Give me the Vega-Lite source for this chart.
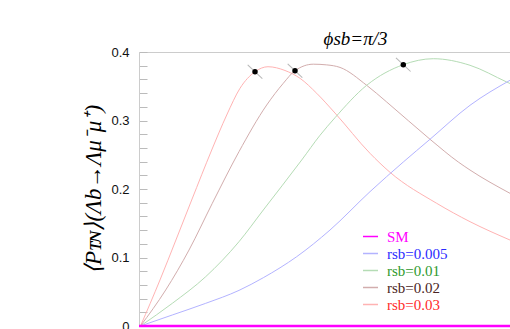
{
  "$schema": "https://vega.github.io/schema/vega-lite/v6.json",
  "width": 371,
  "height": 274,
  "autosize": {"type": "none"},
  "padding": {"left": 139, "top": 52, "right": 0, "bottom": 3},
  "background": "white",
  "config": {"view": {"stroke": null}},
  "title": {"text": "ϕsb=π/3", "font": "Liberation Serif", "fontSize": 19, "fontStyle": "italic", "fontWeight": "normal", "color": "#000", "anchor": "middle", "frame": "group", "dx": 31, "dy": 9, "offset": 6},
  "datasets": {
    "curves": [
      {"series": "rsb=0.03", "q": 0.004, "v": 0.0},
      {"series": "rsb=0.03", "q": 0.0566, "v": 0.0672},
      {"series": "rsb=0.03", "q": 0.0995, "v": 0.1255},
      {"series": "rsb=0.03", "q": 0.142, "v": 0.1839},
      {"series": "rsb=0.03", "q": 0.196, "v": 0.2569},
      {"series": "rsb=0.03", "q": 0.2364, "v": 0.308},
      {"series": "rsb=0.03", "q": 0.2722, "v": 0.347},
      {"series": "rsb=0.03", "q": 0.3127, "v": 0.3712},
      {"series": "rsb=0.03", "q": 0.3477, "v": 0.3785},
      {"series": "rsb=0.03", "q": 0.3935, "v": 0.373},
      {"series": "rsb=0.03", "q": 0.434, "v": 0.3616},
      {"series": "rsb=0.03", "q": 0.479, "v": 0.3397},
      {"series": "rsb=0.03", "q": 0.5283, "v": 0.3109},
      {"series": "rsb=0.03", "q": 0.6226, "v": 0.2521},
      {"series": "rsb=0.03", "q": 0.6765, "v": 0.2244},
      {"series": "rsb=0.03", "q": 0.8024, "v": 0.1791},
      {"series": "rsb=0.03", "q": 0.8922, "v": 0.1523},
      {"series": "rsb=0.03", "q": 1.0, "v": 0.1255},
      {"series": "rsb=0.02", "q": 0.004, "v": 0.0},
      {"series": "rsb=0.02", "q": 0.072, "v": 0.0526},
      {"series": "rsb=0.02", "q": 0.1348, "v": 0.1109},
      {"series": "rsb=0.02", "q": 0.1976, "v": 0.1791},
      {"series": "rsb=0.02", "q": 0.2695, "v": 0.2545},
      {"series": "rsb=0.02", "q": 0.3442, "v": 0.3226},
      {"series": "rsb=0.02", "q": 0.3889, "v": 0.3543},
      {"series": "rsb=0.02", "q": 0.4205, "v": 0.3727},
      {"series": "rsb=0.02", "q": 0.4698, "v": 0.3822},
      {"series": "rsb=0.02", "q": 0.5059, "v": 0.3812},
      {"series": "rsb=0.02", "q": 0.5418, "v": 0.3775},
      {"series": "rsb=0.02", "q": 0.6137, "v": 0.3514},
      {"series": "rsb=0.02", "q": 0.6677, "v": 0.327},
      {"series": "rsb=0.02", "q": 0.7844, "v": 0.2726},
      {"series": "rsb=0.02", "q": 0.8606, "v": 0.2394},
      {"series": "rsb=0.02", "q": 0.8922, "v": 0.2277},
      {"series": "rsb=0.02", "q": 1.0, "v": 0.1937},
      {"series": "rsb=0.01", "q": 0.004, "v": 0.0},
      {"series": "rsb=0.01", "q": 0.0898, "v": 0.0331},
      {"series": "rsb=0.01", "q": 0.1798, "v": 0.072},
      {"series": "rsb=0.01", "q": 0.2695, "v": 0.1231},
      {"series": "rsb=0.01", "q": 0.335, "v": 0.1693},
      {"series": "rsb=0.01", "q": 0.4385, "v": 0.2423},
      {"series": "rsb=0.01", "q": 0.4879, "v": 0.2784},
      {"series": "rsb=0.01", "q": 0.5283, "v": 0.3041},
      {"series": "rsb=0.01", "q": 0.6137, "v": 0.3514},
      {"series": "rsb=0.01", "q": 0.7124, "v": 0.3815},
      {"series": "rsb=0.01", "q": 0.7933, "v": 0.3902},
      {"series": "rsb=0.01", "q": 0.8922, "v": 0.3806},
      {"series": "rsb=0.01", "q": 0.9911, "v": 0.3562},
      {"series": "rsb=0.01", "q": 1.0, "v": 0.354},
      {"series": "rsb=0.005", "q": 0.004, "v": 0.0},
      {"series": "rsb=0.005", "q": 0.0898, "v": 0.0161},
      {"series": "rsb=0.005", "q": 0.1798, "v": 0.0331},
      {"series": "rsb=0.005", "q": 0.2695, "v": 0.052},
      {"series": "rsb=0.005", "q": 0.335, "v": 0.0705},
      {"series": "rsb=0.005", "q": 0.4251, "v": 0.1012},
      {"series": "rsb=0.005", "q": 0.5148, "v": 0.1401},
      {"series": "rsb=0.005", "q": 0.6226, "v": 0.1961},
      {"series": "rsb=0.005", "q": 0.7124, "v": 0.2394},
      {"series": "rsb=0.005", "q": 0.7844, "v": 0.2726},
      {"series": "rsb=0.005", "q": 0.8922, "v": 0.3222},
      {"series": "rsb=0.005", "q": 1.0, "v": 0.3587}
    ],
    "sm": [
      {"series": "SM", "q": 0.0, "v": 0.0},
      {"series": "SM", "q": 1.0, "v": 0.0}
    ],
    "peaks": [
      {"series": "rsb=0.03", "q": 0.3127, "v": 0.3712},
      {"series": "rsb=0.02", "q": 0.4205, "v": 0.3727},
      {"series": "rsb=0.01", "q": 0.7124, "v": 0.3815}
    ]
  },
  "encoding": {
    "x": {"field": "q", "type": "quantitative", "scale": {"domain": [0, 1], "nice": false, "zero": false},
      "axis": {"orient": "top", "title": null, "labels": false, "ticks": false, "grid": false, "domainColor": "#cccccc", "domainWidth": 1, "minExtent": 0, "maxExtent": 0}},
    "y": {"field": "v", "type": "quantitative", "scale": {"domain": [0, 0.4], "nice": false},
      "axis": {
        "title": "⟨Pᴛɴ⟩(Λb→Λμ⁻μ⁺)",
        "titleFont": "Liberation Serif", "titleFontStyle": "italic", "titleFontWeight": "normal", "titleFontSize": 23, "titleColor": "#000", "titlePadding": 5,
        "values": [0, 0.02, 0.04, 0.06, 0.08, 0.1, 0.12, 0.14, 0.16, 0.18, 0.2, 0.22, 0.24, 0.26, 0.28, 0.3, 0.32, 0.34, 0.36, 0.38, 0.4],
        "labelExpr": "abs(datum.value*10 - round(datum.value*10)) < 0.001 ? format(datum.value, '.1~f') : ''",
        "labelFont": "Liberation Sans", "labelFontSize": 13, "labelColor": "#111", "labelPadding": 18,
        "grid": false, "domainColor": "#cccccc", "domainWidth": 1,
        "ticks": true, "tickSize": -8, "tickColor": "#bbbbbb", "tickWidth": 1,
        "encode": {"ticks": {"update": {"x2": {"signal": "abs(datum.value*10 - round(datum.value*10)) < 0.001 ? 8 : 4"}}}}
      }}
  },
  "layer": [
    {
      "data": {"name": "curves"},
      "mark": {"type": "line", "strokeWidth": 1, "interpolate": "monotone"},
      "encoding": {
        "color": {"field": "series", "type": "nominal",
          "scale": {"domain": ["SM", "rsb=0.005", "rsb=0.01", "rsb=0.02", "rsb=0.03"], "range": ["#ff00ff", "#b3b3ff", "#b5dcb5", "#d2adad", "#ffb3b3"]},
          "legend": {"orient": "none", "legendX": 223, "legendY": 176, "title": null, "symbolType": "stroke", "symbolSize": 225, "symbolStrokeWidth": 1.5,
            "labelFont": "Liberation Serif", "labelFontSize": 15, "labelOffset": 8, "rowPadding": 0, "padding": 0, "labelLimit": 200,
            "encode": {"labels": {"update": {"fill": {"signal": "datum.value=='SM'?'#ff00ff':datum.value=='rsb=0.005'?'#2b2bff':datum.value=='rsb=0.01'?'#2e9a2e':datum.value=='rsb=0.02'?'#4a2424':'#ff2a2a'"}}}}}},
        "detail": {"field": "series"}
      }
    },
    {
      "data": {"name": "sm"},
      "mark": {"type": "line", "strokeWidth": 2.5},
      "encoding": {"color": {"field": "series", "type": "nominal"}}
    },
    {
      "data": {"name": "peaks"},
      "mark": {"type": "point", "shape": "stroke", "angle": 43, "size": 400, "color": "#999999", "strokeWidth": 1, "filled": false},
      "encoding": {}
    },
    {
      "data": {"name": "peaks"},
      "mark": {"type": "point", "shape": "circle", "size": 30, "color": "#000000", "filled": true, "opacity": 1},
      "encoding": {}
    }
  ]
}
